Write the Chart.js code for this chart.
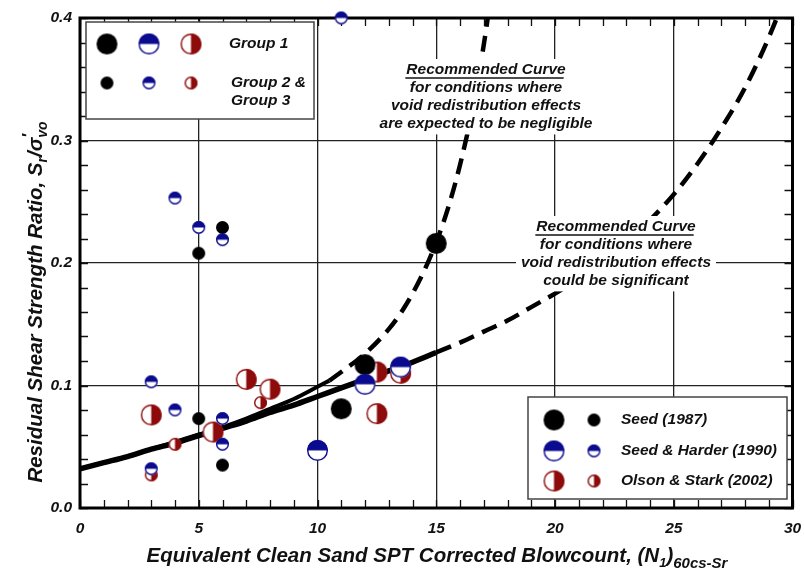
<!DOCTYPE html>
<html>
<head>
<meta charset="utf-8">
<script src="https://cdn.jsdelivr.net/npm/chart.js@4.4.1/dist/chart.umd.min.js"></script>
<style>
html, body { margin: 0; padding: 0; background: #fff; }
</style>
</head>
<body>
<canvas id="cchart" width="804" height="574"></canvas>
<script>
// curve values
const lowerN  = [0,1,2,3,4,5,6,7,8,9,10,11,12,13,14,15,16,17,18,19,20,21,22,23,24,25,26,27,28,29,30];
const lowerSr = [0.032,0.037,0.042,0.048,0.053,0.059,0.065,0.071,0.078,0.084,0.091,0.098,0.105,0.112,0.119,0.127,0.135,0.144,0.153,0.164,0.175,0.187,0.201,0.217,0.235,0.256,0.281,0.310,0.343,0.384,0.433];
const upperN  = [0,1,2,3,4,5,6,7,8,9,10,10.5,11,12,13,13.5,14,14.5,15,15.5,16,16.5,17,17.5];
const upperSr = [0.032,0.037,0.042,0.048,0.054,0.060,0.066,0.073,0.081,0.089,0.099,0.104,0.111,0.126,0.146,0.159,0.175,0.194,0.217,0.245,0.280,0.323,0.378,0.446];
// where each curve turns from solid to dashed
const lowerSolidTo = 15;
const upperSolidTo = 10.5;

// case histories
const seedBigN = [11, 12, 15];
const seedBigSr = [0.081, 0.117, 0.216];
const seedSmallN = [5, 6, 5, 6];
const seedSmallSr = [0.208, 0.229, 0.073, 0.035];
const harderBigN = [10, 12, 13.5];
const harderBigSr = [0.047, 0.101, 0.115];
const harderSmallN = [3, 4, 6, 6, 3, 4, 5, 6, 11];
const harderSmallSr = [0.103, 0.080, 0.073, 0.052, 0.032, 0.253, 0.229, 0.219, 0.400];
const olsonBigN = [3, 5.6, 7, 8, 12.5, 12.5, 13.5];
const olsonBigSr = [0.076, 0.062, 0.105, 0.097, 0.077, 0.111, 0.110];
const olsonSmallN = [4, 3, 7.6];
const olsonSmallSr = [0.052, 0.027, 0.086];

const xTicks = [0, 5, 10, 15, 20, 25, 30];
const yTicks = [0.0, 0.1, 0.2, 0.3, 0.4];

const BLUE = '#0b0b8f';
const RED = '#8e0b0b';
const BIG = 10.5, SMALL = 6.5;
const FAM = '"Liberation Sans", Arial, sans-serif';
const fnt = s => 'italic bold ' + s + 'px ' + FAM;

function pts(xs, ys) { return xs.map((v, i) => ({ x: v, y: ys[i] })); }

function marker(kind, r) {
  const c = document.createElement('canvas');
  const s = Math.ceil(r * 2 + 4);
  c.width = s; c.height = s;
  const g = c.getContext('2d');
  const m = s / 2;
  if (kind === 'seed') {
    g.fillStyle = '#000';
    g.beginPath(); g.arc(m, m, r, 0, Math.PI * 2); g.fill();
    return c;
  }
  const col = kind === 'harder' ? BLUE : RED;
  g.fillStyle = '#fff';
  g.beginPath(); g.arc(m, m, r, 0, Math.PI * 2); g.fill();
  g.fillStyle = col;
  g.beginPath();
  if (kind === 'harder') g.arc(m, m, r, Math.PI, Math.PI * 2);
  else g.arc(m, m, r, -Math.PI / 2, Math.PI / 2);
  g.closePath(); g.fill();
  g.strokeStyle = col; g.lineWidth = 1.4;
  g.beginPath(); g.arc(m, m, r - 0.7, 0, Math.PI * 2); g.stroke();
  return c;
}

const mk = {
  seedB: marker('seed', BIG), seedS: marker('seed', SMALL),
  harderB: marker('harder', BIG), harderS: marker('harder', SMALL),
  olsonB: marker('olson', BIG), olsonS: marker('olson', SMALL)
};

function pointSet(label, data, style, r, order) {
  return { label: label, data: data, pointStyle: style, pointRadius: r, showLine: false, clip: false, order: order };
}

function curve(label, data, width, dashed, order) {
  return { label: label, data: data, showLine: true, pointRadius: 0, borderColor: '#000', borderWidth: width,
    borderDash: dashed ? [16, 9] : [], borderCapStyle: 'butt', cubicInterpolationMode: 'monotone', order: order };
}

function richDraw(ctx, parts, x, y) {
  let w = 0;
  parts.forEach(p => { ctx.font = fnt(p.size); p.w = ctx.measureText(p.text).width; if (!p.stay) w += p.w; });
  let cx = x - w / 2;
  parts.forEach(p => {
    ctx.font = fnt(p.size);
    ctx.fillText(p.text, cx, y + (p.dy || 0));
    if (!p.stay) cx += p.w;
  });
}

const decor = {
  id: 'decor',
  beforeDatasetsDraw(chart) {
    const { ctx, chartArea: a, scales: { x, y } } = chart;
    ctx.save();
    ctx.strokeStyle = '#111'; ctx.lineWidth = 1.3;
    ctx.beginPath();
    for (let i = 0; i <= 30; i++) {
      const px = Math.round(x.getPixelForValue(i)) + 0.5;
      ctx.moveTo(px, a.bottom); ctx.lineTo(px, a.bottom - 8);
      ctx.moveTo(px, a.top); ctx.lineTo(px, a.top + 8);
    }
    for (let j = 0; j <= 20; j++) {
      const py = Math.round(y.getPixelForValue(j * 0.02)) + 0.5;
      ctx.moveTo(a.left, py); ctx.lineTo(a.left + 8, py);
      ctx.moveTo(a.right, py); ctx.lineTo(a.right - 8, py);
    }
    ctx.stroke();
    ctx.lineWidth = 3; ctx.strokeStyle = '#000';
    ctx.strokeRect(a.left, a.top, a.width, a.height);

    // group legend, top left
    ctx.fillStyle = '#fff'; ctx.fillRect(86, 22, 228, 97);
    ctx.strokeStyle = '#444'; ctx.lineWidth = 1.5; ctx.strokeRect(86, 22, 228, 97);
    const put = (c, px, py) => ctx.drawImage(c, px - c.width / 2, py - c.height / 2);
    put(mk.seedB, 107, 44); put(mk.harderB, 149, 44); put(mk.olsonB, 191, 44);
    put(mk.seedS, 107, 83); put(mk.harderS, 149, 83); put(mk.olsonS, 191, 83);
    ctx.fillStyle = '#111'; ctx.font = fnt(15.5); ctx.textBaseline = 'middle'; ctx.textAlign = 'left';
    ctx.fillText('Group 1', 229, 44);
    ctx.fillText('Group 2 &', 231, 83);
    ctx.fillText('Group 3', 231, 101);

    // source legend, bottom right
    ctx.fillStyle = '#fff'; ctx.fillRect(528, 397, 259, 102);
    ctx.strokeStyle = '#444'; ctx.strokeRect(528, 397, 259, 102);
    put(mk.seedB, 554, 420); put(mk.seedS, 594, 420);
    put(mk.harderB, 554, 451); put(mk.harderS, 594, 451);
    put(mk.olsonB, 554, 481); put(mk.olsonS, 594, 481);
    ctx.fillStyle = '#111';
    ctx.fillText('Seed (1987)', 621, 420);
    ctx.fillText('Seed & Harder (1990)', 621, 451);
    ctx.fillText('Olson & Stark (2002)', 621, 481);
    ctx.restore();
  },
  afterDatasetsDraw(chart) {
    const ctx = chart.ctx;
    ctx.save();
    const notes = [
      { cx: 486, cy: 70, lines: ['Recommended Curve', 'for conditions where', 'void redistribution effects', 'are expected to be negligible'] },
      { cx: 616, cy: 227, lines: ['Recommended Curve', 'for conditions where', 'void redistribution effects', 'could be significant'] }
    ];
    const lh = 17.8;
    ctx.font = fnt(15.5);
    ctx.textAlign = 'center'; ctx.textBaseline = 'middle';
    notes.forEach(n => {
      const w = Math.max(...n.lines.map(t => ctx.measureText(t).width));
      ctx.fillStyle = '#fff';
      ctx.fillRect(n.cx - w / 2 - 5, n.cy - 11, w + 10, lh * 3 + 22);
      ctx.fillStyle = '#111';
      n.lines.forEach((t, i) => ctx.fillText(t, n.cx, n.cy + i * lh));
      const uw = ctx.measureText(n.lines[0]).width;
      ctx.strokeStyle = '#111'; ctx.lineWidth = 1.4;
      ctx.beginPath(); ctx.moveTo(n.cx - uw / 2 - 1, n.cy + 8); ctx.lineTo(n.cx + uw / 2 - 2, n.cy + 8); ctx.stroke();
    });
    ctx.restore();
  },
  afterDraw(chart) {
    const ctx = chart.ctx;
    ctx.save();
    ctx.fillStyle = '#111'; ctx.textBaseline = 'alphabetic'; ctx.textAlign = 'left';
    richDraw(ctx, [
      { text: 'Equivalent Clean Sand SPT Corrected Blowcount, (N', size: 20.5 },
      { text: '1', size: 13, dy: 5 },
      { text: ')', size: 20.5 },
      { text: '60cs-Sr', size: 15, dy: 6 }
    ], 437, 562);
    ctx.translate(42, 302);
    ctx.rotate(-Math.PI / 2);
    richDraw(ctx, [
      { text: 'Residual Shear Strength Ratio, S', size: 20.5 },
      { text: 'r', size: 14, dy: 5 },
      { text: '/\u03C3', size: 20.5 },
      { text: '\u2032', size: 16, dy: -8, stay: true },
      { text: 'vo', size: 14, dy: 5 }
    ], 0, 0);
    ctx.restore();
  }
};

const lowerPts = pts(lowerN, lowerSr);
const upperPts = pts(upperN, upperSr);

const config = {
  type: 'scatter',
  data: {
    datasets: [
      curve('negligible (solid)', upperPts.filter(p => p.x <= upperSolidTo), 4, false, 12),
      curve('negligible (dashed)', upperPts.filter(p => p.x >= upperSolidTo), 4.5, true, 13),
      curve('significant (solid)', lowerPts.filter(p => p.x <= lowerSolidTo), 5.5, false, 10),
      curve('significant (dashed)', lowerPts.filter(p => p.x >= lowerSolidTo), 4.5, true, 11),
      pointSet('Olson & Stark (2002) G1', pts(olsonBigN, olsonBigSr), mk.olsonB, BIG, 5),
      pointSet('Olson & Stark (2002) G2/3', pts(olsonSmallN, olsonSmallSr), mk.olsonS, SMALL, 4),
      pointSet('Seed (1987) G1', pts(seedBigN, seedBigSr), mk.seedB, BIG, 3),
      pointSet('Seed (1987) G2/3', pts(seedSmallN, seedSmallSr), mk.seedS, SMALL, 2),
      pointSet('Seed & Harder (1990) G1', pts(harderBigN, harderBigSr), mk.harderB, BIG, 1),
      pointSet('Seed & Harder (1990) G2/3', pts(harderSmallN, harderSmallSr), mk.harderS, SMALL, 0)
    ]
  },
  options: {
    responsive: false,
    animation: false,
    events: [],
    layout: { padding: { top: 18, right: 7, left: 0, bottom: 0 } },
    plugins: { legend: { display: false }, tooltip: { enabled: false } },
    scales: {
      x: {
        type: 'linear', min: 0, max: 30,
        afterBuildTicks: s => { s.ticks = xTicks.map(v => ({ value: v })); },
        ticks: { padding: 11, color: '#111', maxRotation: 0, font: { family: FAM, size: 15.5, style: 'italic', weight: 'bold' } },
        grid: { color: '#222', lineWidth: 1.3, drawTicks: false },
        border: { display: false },
        afterFit: s => { s.height = 66; s.paddingLeft = 0; s.paddingRight = 0; }
      },
      y: {
        type: 'linear', min: 0, max: 0.4,
        afterBuildTicks: s => { s.ticks = yTicks.map(v => ({ value: v })); },
        ticks: { padding: 8, color: '#111', callback: v => v.toFixed(1), font: { family: FAM, size: 15.5, style: 'italic', weight: 'bold' } },
        grid: { color: '#222', lineWidth: 1.3, drawTicks: false },
        border: { display: false },
        afterFit: s => { s.width = 80; s.paddingTop = 0; s.paddingBottom = 0; }
      }
    }
  },
  plugins: [decor]
};

const chart = new Chart(document.getElementById('cchart').getContext('2d'), config);
</script>
</body>
</html>
